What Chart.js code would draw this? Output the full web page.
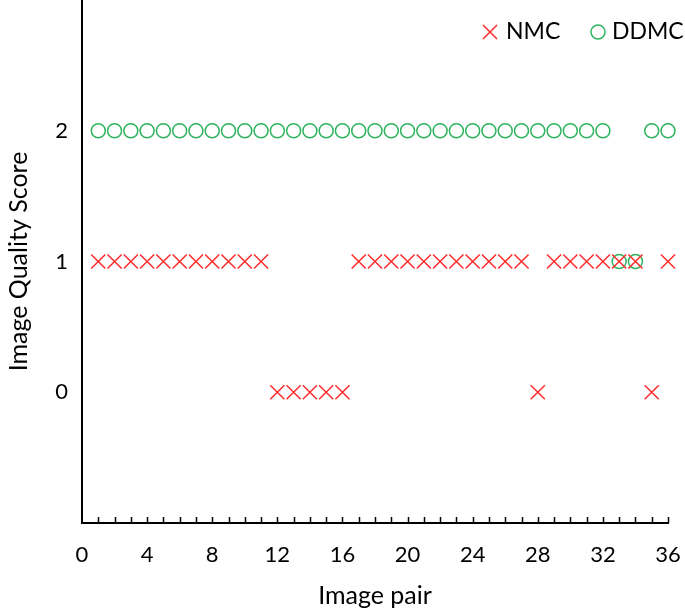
<!DOCTYPE html>
<html><head><meta charset="utf-8">
<script src="https://cdn.jsdelivr.net/npm/chart.js@4/dist/chart.umd.min.js"></script>
<style>html,body{margin:0;padding:0;background:#fff}#wrap{width:685px;height:615px}</style>
</head><body><div id="wrap"><canvas id="c" width="685" height="615"></canvas></div>
<script>
const pairs = [1,2,3,4,5,6,7,8,9,10,11,12,13,14,15,16,17,18,19,20,21,22,23,24,25,26,27,28,29,30,31,32,33,34,35,36];
const nmcScores = [1,1,1,1,1,1,1,1,1,1,1,0,0,0,0,0,1,1,1,1,1,1,1,1,1,1,1,0,1,1,1,1,1,1,0,1];
const ddmcScores = [2,2,2,2,2,2,2,2,2,2,2,2,2,2,2,2,2,2,2,2,2,2,2,2,2,2,2,2,2,2,2,2,1,1,2,2];
const yTickLabels = [0,1,2];
const xTickLabels = [0,4,8,12,16,20,24,28,32,36];

const RED = '#ff2a2a', GREEN = '#2eb35e';
const FONT = 'Lato, "Open Sans", sans-serif';

const minorTicks = {
  id: 'minorTicks',
  afterDraw(chart) {
    const ctx = chart.ctx, xs = chart.scales.x, ys = chart.scales.y;
    const yb = ys.getPixelForValue(-1);
    ctx.save();
    ctx.strokeStyle = '#000'; ctx.lineWidth = 1.5;
    for (let v = 1; v <= 36; v++) {
      const px = Math.round(xs.getPixelForValue(v)) + 0.5;
      ctx.beginPath(); ctx.moveTo(px, yb); ctx.lineTo(px, yb - 6); ctx.stroke();
    }
    // legend
    ctx.font = '23px ' + FONT;
    ctx.textBaseline = 'middle';
    ctx.fillStyle = '#000';
    const ly = 32;
    ctx.strokeStyle = RED; ctx.lineWidth = 1.5;
    const cx1 = 490, r = 7;
    ctx.beginPath(); ctx.moveTo(cx1 - r, ly - r); ctx.lineTo(cx1 + r, ly + r);
    ctx.moveTo(cx1 + r, ly - r); ctx.lineTo(cx1 - r, ly + r); ctx.stroke();
    ctx.fillText('NMC', 506, ly);
    ctx.strokeStyle = GREEN;
    ctx.beginPath(); ctx.arc(598, ly, 7, 0, Math.PI * 2); ctx.stroke();
    ctx.fillText('DDMC', 612, ly);
    ctx.restore();
  }
};

function zeroPad(s) { s.paddingTop = 0; s.paddingBottom = 0; s.paddingLeft = 0; s.paddingRight = 0; }

new Chart(document.getElementById('c'), {
  type: 'scatter',
  data: {
    datasets: [
      { label: 'NMC', data: pairs.map((p, i) => ({x: p, y: nmcScores[i]})), clip: false,
        pointStyle: 'crossRot', radius: 10, borderColor: RED, backgroundColor: RED, borderWidth: 1.5 },
      { label: 'DDMC', data: pairs.map((p, i) => ({x: p, y: ddmcScores[i]})), clip: false,
        pointStyle: 'circle', radius: 7, borderColor: GREEN, backgroundColor: 'rgba(0,0,0,0)', borderWidth: 1.5 }
    ]
  },
  options: {
    responsive: false, animation: false,
    layout: { autoPadding: false, padding: { top: 0, right: 17, left: 0, bottom: 0 } },
    plugins: { legend: { display: false }, tooltip: { enabled: false } },
    scales: {
      x: {
        type: 'linear', min: 0, max: 36,
        afterBuildTicks: s => { s.ticks = xTickLabels.map(v => ({value: v})); },
        ticks: { color: '#000', font: { size: 22, family: FONT }, padding: 19, maxRotation: 0 },
        grid: { display: false, drawTicks: false },
        border: { display: true, color: '#000', width: 2 },
        title: { display: true, text: 'Image pair', color: '#000', font: { size: 25, family: FONT }, padding: { top: 4 } },
        afterFit: s => { s.height = 92; zeroPad(s); }
      },
      y: {
        type: 'linear', min: -1, max: 3,
        afterBuildTicks: s => { s.ticks = yTickLabels.map(v => ({value: v})); },
        ticks: { color: '#000', font: { size: 22, family: FONT }, padding: 14 },
        grid: { display: false, drawTicks: false },
        border: { display: true, color: '#000', width: 2 },
        title: { display: true, text: 'Image Quality Score', color: '#000', font: { size: 25, family: FONT }, padding: { bottom: 0 } },
        afterFit: s => { s.width = 82; zeroPad(s); }
      }
    }
  },
  plugins: [minorTicks]
});
</script></body></html>
